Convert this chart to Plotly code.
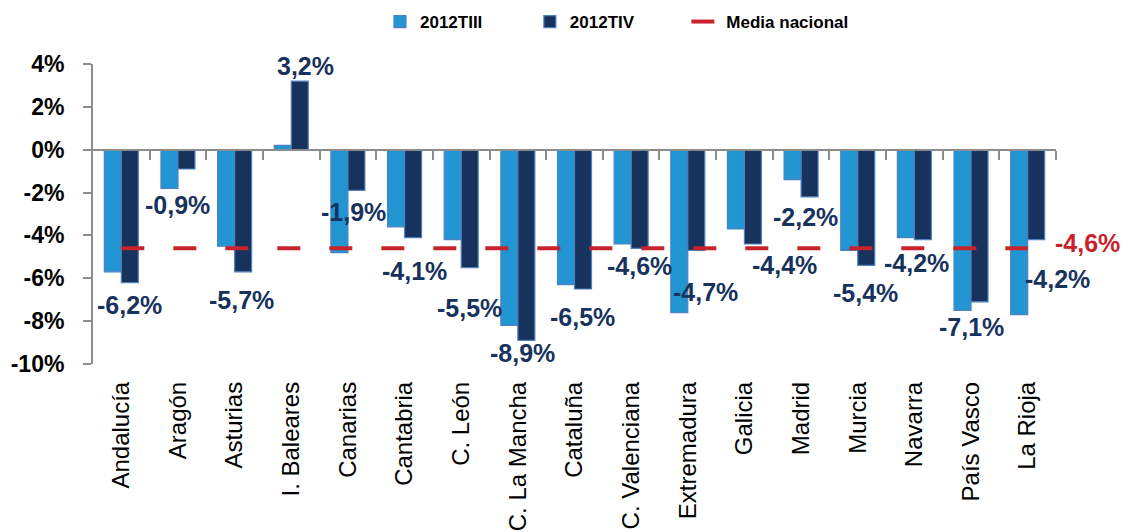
import plotly.graph_objects as go

categories = ["Andalucía", "Aragón", "Asturias", "I. Baleares", "Canarias", "Cantabria",
              "C. León", "C. La Mancha", "Cataluña", "C. Valenciana", "Extremadura",
              "Galicia", "Madrid", "Murcia", "Navarra", "País Vasco", "La Rioja"]
tiii = [-5.7, -1.8, -4.5, 0.2, -4.8, -3.6, -4.2, -8.2, -6.3, -4.4, -7.6, -3.7, -1.4, -4.7, -4.1, -7.5, -7.7]
tiv = [-6.2, -0.9, -5.7, 3.2, -1.9, -4.1, -5.5, -8.9, -6.5, -4.6, -4.7, -4.4, -2.2, -5.4, -4.2, -7.1, -4.2]
media_nacional = -4.6
y_tickvals = [-10, -8, -6, -4, -2, 0, 2, 4]
y_ticktext = ["-10%", "-8%", "-6%", "-4%", "-2%", "0%", "2%", "4%"]
series_names = ["2012TIII", "2012TIV", "Media nacional"]

# label placement offsets (pixels) relative to category center / bar end
label_dx = [8, 0, 7, 14, 6, 10, 8, 5, 8, 8, 18, 40, 4, 8, 2, 0, 30]
label_dy = [22, 36, 28, -15, 22, 33, 40, 13, 28, 18, 42, 21, 20, 28, 23, 25, 39]
legend_pad = [9, 10, 0]  # trailing spaces to space out legend entries

LIGHT = "#2196D3"
DARK = "#17325C"
RED = "#C8232B"
GRAY = "#8C8C8C"
FONT = "Liberation Sans, Arial, sans-serif"

def fmt(v):
    return f"{v:.1f}".replace(".", ",") + "%"

def lname(i):
    return "<b>" + series_names[i] + "</b>" + "&nbsp;" * legend_pad[i]

ymin, ymax = -10, 4

fig = go.Figure()
fig.add_trace(go.Bar(x=categories, y=tiii, name=lname(0), marker_color=LIGHT,
                     marker_line=dict(color="#4F81BD", width=1.2)))
fig.add_trace(go.Bar(x=categories, y=tiv, name=lname(1), marker_color=DARK,
                     marker_line=dict(color="#4F81BD", width=1.2)))
fig.add_trace(go.Scatter(x=categories, y=[media_nacional] * len(categories), mode="lines",
                         name=lname(2),
                         line=dict(color=RED, width=4, dash="23px,29px")))
# invisible helper trace so the zero-level axis exists
fig.add_trace(go.Scatter(x=[None], y=[None], xaxis="x2", showlegend=False, hoverinfo="skip"))

for i, (c, v) in enumerate(zip(categories, tiv)):
    fig.add_annotation(x=c, y=v, text="<b>" + fmt(v) + "</b>", showarrow=False,
                       xanchor="center", yanchor="middle",
                       xshift=label_dx[i], yshift=-label_dy[i],
                       font=dict(family=FONT, size=25, color=DARK))

fig.add_annotation(x=categories[-1], y=media_nacional, text="<b>" + fmt(media_nacional) + "</b>",
                   showarrow=False, xanchor="center", yanchor="middle", xshift=60, yshift=5,
                   font=dict(family=FONT, size=25, color=RED))

n = len(categories)
fig.update_layout(
    width=1121, height=524,
    margin=dict(l=85, r=73, t=56, b=168, autoexpand=False),
    plot_bgcolor="white", paper_bgcolor="white",
    barmode="group", bargap=0.4, bargroupgap=0,
    font=dict(family=FONT, color="black"),
    showlegend=True,
    legend=dict(orientation="h", x=0.298, y=1.14, xanchor="left", yanchor="middle",
                font=dict(family=FONT, size=17, color="black"), itemwidth=30,
                bgcolor="rgba(0,0,0,0)"),
    xaxis=dict(type="category", categoryarray=categories, range=[-0.5, n - 0.5],
               showline=False, ticks="", tickangle=-90, ticklabelstandoff=12, automargin=False,
               tickfont=dict(family=FONT, size=24, color="black"), showgrid=False),
    xaxis2=dict(overlaying="x", anchor="free", position=(0 - ymin) / (ymax - ymin),
                range=[-0.5, n - 0.5], showline=True, linecolor=GRAY, linewidth=2,
                ticks="outside", ticklen=9, tickcolor=GRAY, tickwidth=2, automargin=False,
                tickvals=[i + 0.5 for i in range(n)], showticklabels=False, showgrid=False,
                zeroline=False),
    yaxis=dict(range=[ymin, ymax], tickvals=y_tickvals,
               ticktext=["<b>" + t + "</b>" for t in y_ticktext], automargin=False,
               showline=True, linecolor=GRAY, linewidth=2, ticks="outside", ticklen=8,
               tickcolor=GRAY, tickwidth=2, showgrid=False, zeroline=False,
               ticklabelstandoff=14,
               tickfont=dict(family=FONT, size=23, color="black")),
)

fig.write_html("out.html")
